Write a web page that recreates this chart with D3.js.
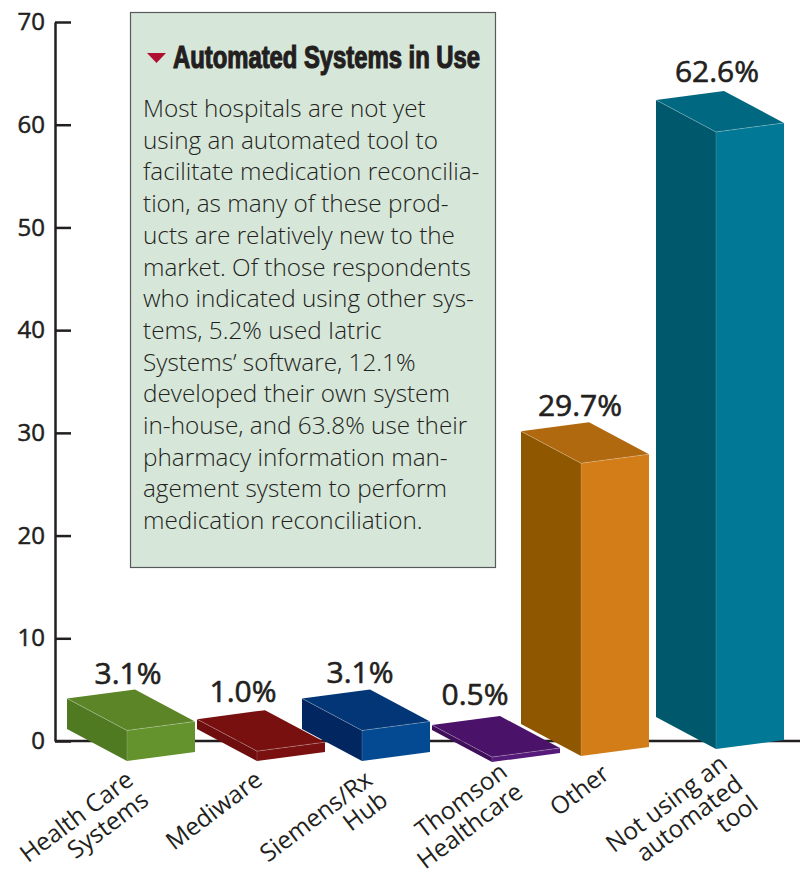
<!DOCTYPE html>
<html lang="en">
    <head>
        <meta charset="utf-8">
        <title>Automated Systems in Use</title>
        <script src="https://d3js.org/d3.v7.min.js"></script>
        <style type="text/css">
            html, body { margin: 0; padding: 0; background: #fff; }
            svg { display: block; }
            text { font-family: "Open Sans", sans-serif; fill: #231f20; }
            .axis text { font-size: 24px; stroke: #231f20; stroke-width: 0.5px; }
            .axis path, .axis line { stroke: #231f20; stroke-width: 2.5px; }
            .value { font-size: 30px; text-anchor: middle; stroke: #231f20; stroke-width: 0.6px; }
            .cat { font-size: 24.4px; text-anchor: end; }
            .body-line { font-size: 24.3px; font-weight: 300; }
        </style>
    </head>
    <body>
        <script type="text/javascript">
        //Data
        const categories = ["Health Care Systems", "Mediware", "Siemens/Rx Hub", "Thomson Healthcare", "Other", "Not using an automated tool"];
        const values = [3.1, 1.0, 3.1, 0.5, 29.7, 62.6];
        const valueLabels = ["3.1%", "1.0%", "3.1%", "0.5%", "29.7%", "62.6%"];
        const categoryLines = [["Health Care", "Systems"], ["Mediware"], ["Siemens/Rx", "Hub"], ["Thomson", "Healthcare"], ["Other"], ["Not using an", "automated", "tool"]];
        const yTicks = [0, 10, 20, 30, 40, 50, 60, 70];
        const rightColors = ["#64932e", "#7a1010", "#044a92", "#551a7a", "#d27d18", "#007896"];
        const topColors = ["#5c8528", "#78100f", "#033677", "#4a1268", "#b0690e", "#006880"];
        const leftColors = ["#4f7a22", "#6e0e0e", "#02265f", "#3f0f5a", "#8e5700", "#00586c"];
        const boxTitle = "Automated Systems in Use";
        const boxLines = [
            "Most hospitals are not yet",
            "using an automated tool to",
            "facilitate medication reconcilia-",
            "tion, as many of these prod-",
            "ucts are relatively new to the",
            "market. Of those respondents",
            "who indicated using other sys-",
            "tems, 5.2% used Iatric",
            "Systems\u2019 software, 12.1%",
            "developed their own system",
            "in-house, and 63.8% use their",
            "pharmacy information man-",
            "agement system to perform",
            "medication reconciliation."
        ];

        //Constants
        const w = 800;
        const h = 876;
        const axisX = 55;

        const svg = d3.select("body")
                      .append("svg")
                      .attr("width", w)
                      .attr("height", h);

        //Scales
        const yScale = d3.scaleLinear().domain([0, 70]).range([741, 22]);
        // bars are drawn a bit shorter than the axis, as in the original artwork
        const heightScale = d3.scaleLinear().domain([0, 70]).range([0, 690]);
        const frontX = d3.scaleOrdinal().domain(categories).range([127, 257, 362, 492, 581, 716]);
        const frontY = d3.scaleOrdinal().domain(categories).range([761, 761, 761, 762, 756, 749]);
        const labelX = d3.scaleOrdinal().domain(categories).range([128, 243, 360, 475, 580, 717]);
        const labelGap = d3.scaleOrdinal().domain(categories).range([5, 8, 6, 11, 6, 9]);
        const catX = d3.scaleOrdinal().domain(categories).range([135, 264, 374, 509, 611, 729]);
        const catY = d3.scaleOrdinal().domain(categories).range([783, 783, 783, 775, 777, 767]);

        // box offsets from the front bottom corner
        const toLeft = [-60, -32];
        const toRight = [68, -9];

        const bars = categories.map((c, i) => ({
            cat: c,
            value: values[i],
            label: valueLabels[i],
            lines: categoryLines[i],
            right: rightColors[i],
            top: topColors[i],
            left: leftColors[i],
            x: frontX(c),
            y: frontY(c),
            hgt: heightScale(values[i])
        }));

        const poly = pts => pts.map(p => p.join(",")).join(" ");

        //Axes
        const leftAxis = d3.axisLeft()
                           .scale(yScale)
                           .tickValues(yTicks)
                           .tickSize(-16)
                           .tickSizeOuter(0)
                           .tickPadding(10);

        svg.append("g")
           .attr("class", "axis")
           .attr("transform", "translate(" + axisX + ", 0)")
           .call(leftAxis);

        svg.append("line")
           .attr("x1", axisX)
           .attr("x2", w)
           .attr("y1", yScale(0))
           .attr("y2", yScale(0))
           .attr("stroke", "#231f20")
           .attr("stroke-width", 2.5);

        //Bars
        const bar = svg.selectAll(".bar")
                       .data(bars)
                       .enter()
                       .append("g")
                       .attr("class", "bar");

        bar.append("polygon")
           .attr("fill", d => d.left)
           .attr("points", d => poly([
               [d.x, d.y],
               [d.x, d.y - d.hgt],
               [d.x + toLeft[0], d.y + toLeft[1] - d.hgt],
               [d.x + toLeft[0], d.y + toLeft[1]]
           ]));

        bar.append("polygon")
           .attr("fill", d => d.right)
           .attr("points", d => poly([
               [d.x, d.y],
               [d.x, d.y - d.hgt],
               [d.x + toRight[0], d.y + toRight[1] - d.hgt],
               [d.x + toRight[0], d.y + toRight[1]]
           ]));

        bar.append("polygon")
           .attr("fill", d => d.top)
           .attr("points", d => poly([
               [d.x, d.y - d.hgt],
               [d.x + toLeft[0], d.y + toLeft[1] - d.hgt],
               [d.x + toLeft[0] + toRight[0], d.y + toLeft[1] + toRight[1] - d.hgt],
               [d.x + toRight[0], d.y + toRight[1] - d.hgt]
           ]));

        // thin light ridge lines
        bar.append("polyline")
           .attr("fill", "none")
           .attr("stroke", "#fff")
           .attr("stroke-opacity", 0.3)
           .attr("stroke-width", 0.8)
           .attr("points", d => poly([
               [d.x + toLeft[0], d.y + toLeft[1] - d.hgt],
               [d.x, d.y - d.hgt],
               [d.x + toRight[0], d.y + toRight[1] - d.hgt]
           ]));

        bar.append("line")
           .attr("stroke", "#fff")
           .attr("stroke-opacity", 0.2)
           .attr("stroke-width", 0.8)
           .attr("x1", d => d.x)
           .attr("x2", d => d.x)
           .attr("y1", d => d.y)
           .attr("y2", d => d.y - d.hgt);

        //Value labels
        svg.selectAll(".value")
           .data(bars)
           .enter()
           .append("text")
           .attr("class", "value")
           .attr("x", d => labelX(d.cat))
           .attr("y", d => d.y + toLeft[1] + toRight[1] - d.hgt - labelGap(d.cat))
           .text(d => d.label);

        //Category labels
        const cat = svg.selectAll(".cat")
                       .data(bars)
                       .enter()
                       .append("text")
                       .attr("class", "cat")
                       .attr("transform", d => "translate(" + catX(d.cat) + "," + catY(d.cat) + ") rotate(-37)");

        cat.selectAll("tspan")
           .data(d => d.lines)
           .enter()
           .append("tspan")
           .attr("x", 0)
           .attr("y", (d, i) => i * 25.5)
           .text(d => d);

        //Text box
        const boxX = 130.5, boxY = 12.5, boxW = 365, boxH = 555;

        svg.append("rect")
           .attr("x", boxX)
           .attr("y", boxY)
           .attr("width", boxW)
           .attr("height", boxH)
           .attr("fill", "#d6e6d9")
           .attr("stroke", "#58595b")
           .attr("stroke-width", 1.2);

        svg.append("polygon")
           .attr("points", poly([[147, 53], [166, 53], [156.5, 63]]))
           .attr("fill", "#b01030");

        svg.append("text")
           .attr("x", 173)
           .attr("y", 68)
           .style("font-family", "'Liberation Sans Narrow', 'Liberation Sans', sans-serif")
           .attr("font-size", "31px")
           .attr("font-weight", "bold")
           .attr("stroke", "#231f20")
           .attr("stroke-width", 1.2)
           .attr("textLength", 307)
           .attr("lengthAdjust", "spacingAndGlyphs")
           .text(boxTitle);

        svg.selectAll(".body-line")
           .data(boxLines)
           .enter()
           .append("text")
           .attr("class", "body-line")
           .attr("x", 143)
           .attr("y", (d, i) => 117 + i * 31.7)
           .text(d => d);
        </script>
    </body>
</html>
